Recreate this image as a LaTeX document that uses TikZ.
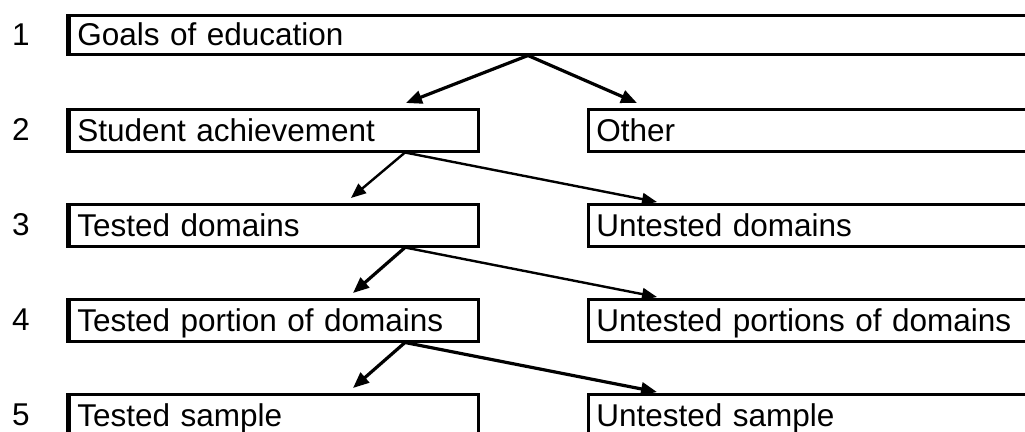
\documentclass[tikz,border=0pt]{standalone}
\usepackage{fontspec}
\setmainfont{Liberation Sans}
\usetikzlibrary{arrows.meta,calc}
\begin{document}
\begin{tikzpicture}[x=1pt,y=-1pt,
  lbl/.style={font=\fontsize{31.5}{31.5}\selectfont},
  box/.style={lbl, draw, line width=2.5pt, anchor=north west, inner xsep=8pt, inner ysep=0pt,
              minimum height=42pt, text height=22pt, text depth=0pt, align=left, text width=#1},
  edge/.style={line width=5pt},
  num/.style={lbl, anchor=base west, inner sep=0pt},
  arr/.style={line width=2.4pt, -{Triangle[length=15pt,width=12pt]}},
  arrb/.style={line width=3.2pt, -{Triangle[length=16pt,width=13pt]}}]
\useasboundingbox (0,0) rectangle (1025,431);
\clip (0,0) rectangle (1025,431);
% numbers
\node[num] (n1) at (12,45) {1};
\node[num] (n2) at (12,140) {2};
\node[num] (n3) at (12,235) {3};
\node[num] (n4) at (12,330) {4};
\node[num] (n5) at (12,425) {5};
% boxes
\node[box=956pt, minimum height=39pt] (goals) at (68,14) {Goals of education};
\node[box=393pt] (sa) at (68,108) {Student achievement};
\node[box=437pt] (oth) at (587,108) {Other};
\node[box=393pt] (td) at (68,203) {Tested domains};
\node[box=437pt] (ud) at (587,203) {Untested domains};
\node[box=393pt] (tp) at (68,298) {Tested portion of domains};
\node[box=437pt] (up) at (587,298) {Untested portions of domains};
\node[box=393pt] (ts) at (68,393) {Tested sample};
\node[box=437pt] (us) at (587,393) {Untested sample};
% thick left edges
\foreach \n in {goals,sa,td,tp,ts}{\draw[edge] (\n.north west) -- (\n.south west);}
% arrows
\draw[arrb] ([xshift=460pt]goals.south west) -- ([xshift=338pt,yshift=5pt]sa.north west);
\draw[arrb] ([xshift=460pt]goals.south west) -- ([xshift=50pt,yshift=5pt]oth.north west);
\draw[arr] ([xshift=337pt]sa.south west) -- ([xshift=283pt,yshift=5pt]td.north west);
\draw[arr] ([xshift=337pt]sa.south west) -- ([xshift=70pt,yshift=1pt]ud.north west);
\draw[arrb] ([xshift=337pt]td.south west) -- ([xshift=285pt,yshift=5pt]tp.north west);
\draw[arr] ([xshift=337pt]td.south west) -- ([xshift=70pt,yshift=1pt]up.north west);
\draw[arrb] ([xshift=337pt]tp.south west) -- ([xshift=285pt,yshift=5pt]ts.north west);
\draw[arrb] ([xshift=337pt]tp.south west) -- ([xshift=70pt,yshift=1pt]us.north west);
\end{tikzpicture}
\end{document}
